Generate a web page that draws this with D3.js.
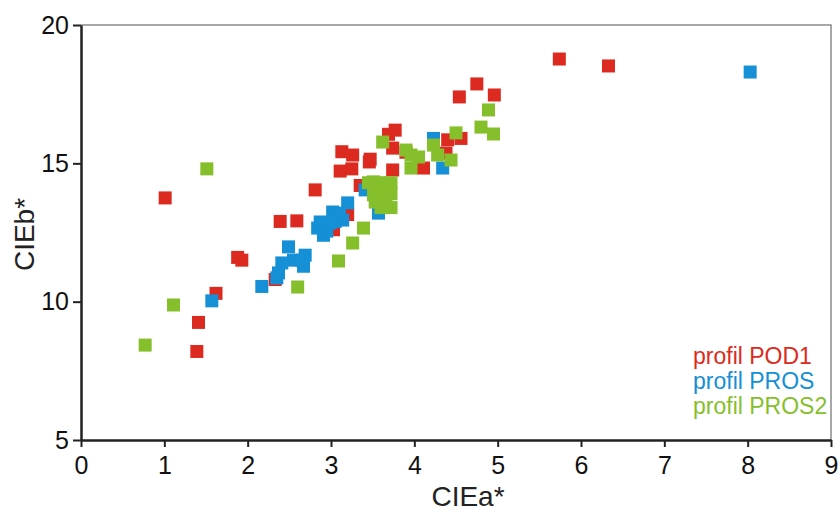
<!DOCTYPE html>
<html>
<head>
<meta charset="utf-8">
<script src="https://cdnjs.cloudflare.com/ajax/libs/d3/7.8.5/d3.min.js"></script>
<style>
  body { margin: 0; background: #fff; }
  #vis text { font-family: "Liberation Sans Narrow", "Liberation Sans", Arial, sans-serif; }
  #vis text.legend { font-family: "Liberation Sans", Arial, sans-serif; }
  .axis path, .axis line { stroke: #222; }
</style>
</head>
<body>
<div id="vis"></div>
<script>
// data
var xTicks = [0, 1, 2, 3, 4, 5, 6, 7, 8, 9];
var yTicks = [5, 10, 15, 20];
var seriesNames = ['profil POD1', 'profil PROS', 'profil PROS2'];
var seriesColors = ['#dc2a20', '#1590d6', '#86bf2c'];

var pod1X = [1.01, 1.39, 1.41, 1.62, 1.88, 1.93, 2.33, 2.39, 2.59, 2.81, 3.03, 3.13, 3.11, 3.26, 3.25, 3.35,
             3.2, 3.46, 3.47, 3.69, 3.77, 3.74, 3.74, 3.9, 4.11, 4.38, 4.4, 4.56, 4.54, 4.75, 4.96, 5.74, 6.33];
var pod1Y = [13.75, 8.2, 9.25, 10.3, 11.6, 11.5, 10.8, 12.9, 12.92, 14.04, 12.6, 15.42, 14.72, 15.3, 14.8, 14.2,
             13.15, 15.05, 15.15, 16.05, 16.2, 15.55, 14.76, 15.4, 14.83, 15.37, 15.85, 15.9, 17.4, 17.87, 17.47, 18.77, 18.52];

var prosX = [1.57, 2.17, 2.35, 2.37, 2.41, 2.49, 2.55, 2.65, 2.69, 2.67, 2.84, 2.87, 2.91, 3.02, 2.99, 3.14,
             3.2, 3.1, 3.41, 3.57, 4.23, 4.34, 8.03, 2.95, 3.05];
var prosY = [10.03, 10.55, 10.86, 11.04, 11.4, 11.98, 11.5, 11.5, 11.68, 11.28, 12.66, 12.88, 12.4, 13.24, 12.84, 12.95,
             13.57, 13.2, 14.04, 13.2, 15.9, 14.83, 18.3, 12.55, 12.9];

var pros2X = [0.77, 1.11, 1.51, 2.6, 3.09, 3.26, 3.39, 3.51, 3.6, 3.72, 3.51, 3.6, 3.72, 3.53, 3.66, 3.6, 3.72,
              3.62, 3.9, 3.96, 4.05, 3.96, 4.23, 4.28, 4.5, 4.44, 4.89, 4.8, 4.95, 3.45];
var pros2Y = [8.43, 9.88, 14.8, 10.53, 11.47, 12.12, 12.66, 14.33, 14.3, 14.3, 13.86, 13.9, 13.9, 13.6, 13.6, 13.4, 13.4,
              15.77, 15.48, 15.3, 15.23, 14.83, 15.66, 15.3, 16.1, 15.12, 16.93, 16.31, 16.06, 14.3];

var width = 840;
var height = 517;
var margin = { top: 25, right: 9, bottom: 77, left: 81 };
var drawWidth = width - margin.left - margin.right;
var drawHeight = height - margin.top - margin.bottom;
var size = 13;

var svg = d3.select('#vis')
            .append('svg')
            .attr('width', width)
            .attr('height', height);

var g = svg.append('g')
           .attr('transform', 'translate(' + margin.left + ',' + margin.top + ')');

var xScale = d3.scaleLinear().domain([0, 9]).range([0, drawWidth]);
var yScale = d3.scaleLinear().domain([5, 20]).range([drawHeight, 0]);

// top and right frame
g.append('path')
 .attr('d', 'M0,0H' + drawWidth + 'V' + drawHeight)
 .attr('fill', 'none')
 .attr('stroke', '#8a8a8a')
 .attr('stroke-width', 1.5);

var series = [
    { x: pod1X, y: pod1Y },
    { x: prosX, y: prosY },
    { x: pros2X, y: pros2Y }
];

series.forEach(function(s, i) {
    var pts = s.x.map(function(v, j) { return [v, s.y[j]]; });
    g.append('g').selectAll('rect')
     .data(pts)
     .enter().append('rect')
     .attr('x', function(d) { return xScale(d[0]) - size / 2; })
     .attr('y', function(d) { return yScale(d[1]) - size / 2; })
     .attr('width', size)
     .attr('height', size)
     .attr('fill', seriesColors[i]);
});

var xAxis = d3.axisBottom(xScale).tickValues(xTicks).tickSize(7).tickSizeOuter(0).tickPadding(9);
var yAxis = d3.axisLeft(yScale).tickValues(yTicks).tickSize(8).tickSizeOuter(0).tickPadding(4);

var xa = g.append('g')
          .attr('class', 'axis')
          .attr('transform', 'translate(0,' + drawHeight + ')')
          .call(xAxis);
var ya = g.append('g')
          .attr('class', 'axis')
          .call(yAxis);

[xa, ya].forEach(function(a) {
    a.select('.domain').attr('stroke-width', 2.5);
    a.selectAll('line').attr('stroke-width', 2);
    a.selectAll('text').attr('fill', '#111').style('font-size', '25px');
});

svg.append('text')
   .attr('x', margin.left + drawWidth / 2 + 12)
   .attr('y', 506)
   .attr('text-anchor', 'middle')
   .attr('fill', '#222')
   .style('font-size', '28px')
   .text('CIEa*');

svg.append('text')
   .attr('transform', 'translate(34,' + (margin.top + drawHeight / 2 + 2) + ') rotate(-90)')
   .attr('text-anchor', 'middle')
   .attr('fill', '#222')
   .style('font-size', '28px')
   .text('CIEb*');

// legend
seriesNames.forEach(function(name, i) {
    svg.append('text')
       .attr('class', 'legend')
       .attr('x', 693)
       .attr('y', 364 + i * 25)
       .attr('fill', seriesColors[i])
       .style('font-size', '23px')
       .text(name);
});
</script>
</body>
</html>
